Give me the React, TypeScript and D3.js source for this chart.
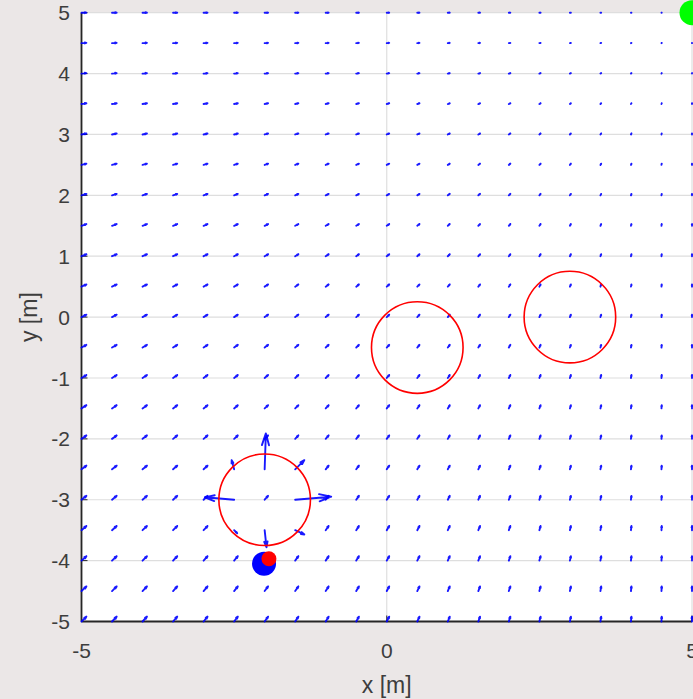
import * as d3 from 'd3';
import React from 'react';

// axis ticks
const xTicks = [-5, 0, 5];
const yTicks = [-5, -4, -3, -2, -1, 0, 1, 2, 3, 4, 5];

// quiver grid (0.5 m spacing)
const fieldX = [-5, -4.5, -4, -3.5, -3, -2.5, -2, -1.5, -1, -0.5, 0, 0.5, 1, 1.5, 2, 2.5, 3, 3.5, 4, 4.5, 5];
const fieldY = [-5, -4.5, -4, -3.5, -3, -2.5, -2, -1.5, -1, -0.5, 0, 0.5, 1, 1.5, 2, 2.5, 3, 3.5, 4, 4.5, 5];

// goal pulls every grid point, arrow length grows with distance
const goal = [5, 5];
const attractGain = 0.008;

// obstacles [x, y, radius]
const obstacles = [
  [-2, -3, 0.75],
  [0.5, -0.5, 0.75],
  [3, 0, 0.75],
];

// arrows around the first obstacle [x, y, u, v]
const pushArrows = [
  [-2, -2.5, 0.02, 0.59],
  [-1.5, -3, 0.59, 0.05],
  [-2.5, -3, -0.48, 0.04],
  [-2, -3.5, 0.03, -0.28],
  [-1.5, -2.5, 0.15, 0.15],
  [-2.5, -2.5, -0.04, 0.15],
  [-2.5, -3.5, 0.05, -0.05],
  [-1.5, -3.5, 0.15, -0.07],
];

// robot and its estimate
const robot = [-2.01, -4.05];
const estimate = [-1.93, -3.97];

const W = 693;
const H = 699;
const font = '"Liberation Sans", Arial, sans-serif';
const textColor = '#3d3d3d';

export default function App() {
  const x = d3.scaleLinear().domain([-5, 5]).range([81.5, 692]);
  const y = d3.scaleLinear().domain([-5, 5]).range([621.5, 12.7]);

  // every grid point gets the goal pull unless it is one of the read arrows
  const arrows: number[][] = [];
  fieldY.forEach(fy => {
    fieldX.forEach(fx => {
      const push = pushArrows.find(p => p[0] === fx && p[1] === fy);
      if (push) arrows.push(push);
      else
        arrows.push([
          fx,
          fy,
          attractGain * (goal[0] - fx),
          attractGain * (goal[1] - fy),
        ]);
    });
  });

  // matlab-style quiver path: shaft plus two head strokes
  const arrowPath = (a: number[]) => {
    const x0 = x(a[0]);
    const y0 = y(a[1]);
    const u = x(a[0] + a[2]) - x0;
    const v = y(a[1] + a[3]) - y0;
    const tx = x0 + u;
    const ty = y0 + v;
    const al = 0.33;
    const be = 0.3;
    const h1x = tx - al * (u + be * v);
    const h1y = ty - al * (v - be * u);
    const h2x = tx - al * (u - be * v);
    const h2y = ty - al * (v + be * u);
    return `M${x0},${y0}L${tx},${ty}M${h1x},${h1y}L${tx},${ty}L${h2x},${h2y}`;
  };

  const rPx = (r: number) => x(r) - x(0);

  return (
    <div style={{ position: 'fixed', left: 0, top: 0 }}>
      <svg width={W} height={H} style={{ display: 'block' }}>
        <rect width={W} height={H} fill="#ebe7e7" />
        <rect
          x={x(-5)}
          y={y(5)}
          width={W - x(-5)}
          height={y(-5) - y(5)}
          fill="#ffffff"
        />

        {/* grid */}
        {yTicks.map(t => (
          <line
            key={'gy' + t}
            x1={x(-5)}
            x2={x(5)}
            y1={y(t)}
            y2={y(t)}
            stroke="#dedede"
            strokeWidth={1.2}
          />
        ))}
        {xTicks.map(t => (
          <line
            key={'gx' + t}
            x1={x(t)}
            x2={x(t)}
            y1={y(-5)}
            y2={y(5)}
            stroke="#dedede"
            strokeWidth={1.2}
          />
        ))}

        {/* axes */}
        <line x1={x(-5)} x2={x(-5)} y1={y(-5)} y2={y(5)} stroke="#262626" strokeWidth={1.8} />
        <line x1={x(-5)} x2={x(5)} y1={y(-5)} y2={y(-5)} stroke="#262626" strokeWidth={1.8} />
        {yTicks.map(t => (
          <line key={'ty' + t} x1={x(-5)} x2={x(-5) + 6} y1={y(t)} y2={y(t)} stroke="#262626" strokeWidth={1} />
        ))}
        {xTicks.map(t => (
          <line key={'tx' + t} x1={x(t)} x2={x(t)} y1={y(-5)} y2={y(-5) - 6} stroke="#262626" strokeWidth={1} />
        ))}

        {/* quiver */}
        {arrows.map((a, i) => (
          <path
            key={'a' + i}
            d={arrowPath(a)}
            fill="none"
            stroke="#0000ff"
            strokeWidth={1.9}
            strokeOpacity={0.9}
            strokeLinecap="round"
            strokeLinejoin="round"
          />
        ))}

        {/* obstacles */}
        {obstacles.map((o, i) => (
          <circle
            key={'o' + i}
            cx={x(o[0])}
            cy={y(o[1])}
            r={rPx(o[2])}
            fill="none"
            stroke="#ff0000"
            strokeWidth={1.6}
          />
        ))}

        <circle cx={x(robot[0])} cy={y(robot[1])} r={12} fill="#0000ff" />
        <circle cx={x(estimate[0])} cy={y(estimate[1])} r={7.5} fill="#ff0000" />
        <circle cx={x(goal[0])} cy={y(goal[1])} r={12.5} fill="#00ff00" />

        {/* tick labels */}
        {yTicks.map(t => (
          <text
            key={'ly' + t}
            x={70}
            y={y(t)}
            dy="0.36em"
            textAnchor="end"
            fontFamily={font}
            fontSize={21}
            fill={textColor}
          >
            {t}
          </text>
        ))}
        {xTicks.map(t => (
          <text
            key={'lx' + t}
            x={x(t)}
            y={658}
            textAnchor="middle"
            fontFamily={font}
            fontSize={21}
            fill={textColor}
          >
            {t}
          </text>
        ))}

        <text
          x={x(0)}
          y={693}
          textAnchor="middle"
          fontFamily={font}
          fontSize={23}
          fill={textColor}
        >
          x [m]
        </text>
        <text
          transform={`translate(37,${y(0)}) rotate(-90)`}
          textAnchor="middle"
          fontFamily={font}
          fontSize={23}
          fill={textColor}
        >
          y [m]
        </text>
      </svg>
    </div>
  );
}
